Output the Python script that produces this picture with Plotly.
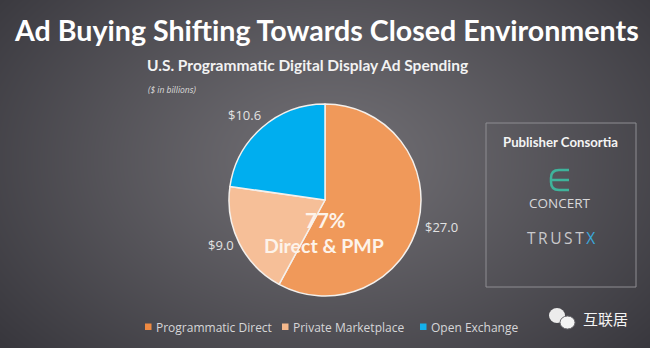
import base64, struct, zlib
import numpy as np
import plotly.graph_objects as go

# ---------------- data ----------------
labels = ["Programmatic Direct", "Private Marketplace", "Open Exchange"]
values = [27.0, 9.0, 10.6]
colors = ["#f0995a", "#f6bf98", "#00aeef"]
legend_colors = ["#ef8a42", "#f5b88c", "#14b0ea"]
title = "Ad Buying Shifting Towards Closed Environments"
subtitle = "U.S. Programmatic Digital Display Ad Spending"
unit_note = "($ in billions)"
center_label = "Direct & PMP"
box_title = "Publisher Consortia"
consortia = ["CONCERT", "TRUSTX"]
watermark = "互联居"

W, H = 650, 348

# ---------------- background gradient image ----------------
def png_uri(arr):
    h, w, _ = arr.shape
    raw = b"".join(b"\x00" + arr[i].tobytes() for i in range(h))
    def chunk(t, d):
        c = struct.pack(">I", len(d)) + t + d
        return c + struct.pack(">I", zlib.crc32(t + d) & 0xffffffff)
    png = b"\x89PNG\r\n\x1a\n" + chunk(b"IHDR", struct.pack(">IIBBBBB", w, h, 8, 2, 0, 0, 0)) \
        + chunk(b"IDAT", zlib.compress(raw, 9)) + chunk(b"IEND", b"")
    return "data:image/png;base64," + base64.b64encode(png).decode()

yy, xx = np.mgrid[0:H, 0:W]
d = np.sqrt(((xx - 330) / 430.0) ** 2 + ((yy - 160) / 290.0) ** 2)
d = np.clip(d, 0, 1) ** 1.1
c_in = np.array([114, 112, 117], float)
c_out = np.array([56, 55, 61], float)
img = (c_in[None, None, :] * (1 - d[..., None]) + c_out[None, None, :] * d[..., None]).astype(np.uint8)
bg_uri = png_uri(img)

# ---------------- figure ----------------
fig = go.Figure()

cx, cy, r = 325, 200, 96
fig.add_trace(go.Pie(
    labels=labels, values=values, sort=False, direction="clockwise", rotation=0,
    marker=dict(colors=colors, line=dict(color="#f4f0ec", width=1.5)),
    textinfo="none", hoverinfo="label+value",
    domain=dict(x=[(cx - r) / W, (cx + r) / W], y=[(H - cy - r) / H, (H - cy + r) / H]),
    showlegend=False,
))
# helper invisible scatter for pixel-coordinate axes
fig.add_trace(go.Scatter(x=[], y=[], showlegend=False, hoverinfo="skip"))

ann = []
def A(x, y, text, size, color="#ffffff", family="Lato", **kw):
    ann.append(dict(x=x, y=y, xref="x", yref="y", text=text, showarrow=False,
                    font=dict(size=size, color=color, family=family), **kw))

A(326, 30, f"<b>{title}</b>", 28.6)
A(307, 65, f"<b>{subtitle}</b>", 15.5, color="#f2f2f2")
A(172, 89, f"<i>{unit_note}</i>", 8.5, color="#dcdcdc", family="Open Sans")

# value labels
total = sum(values)
pos = [(441, 227), (221, 245), (244, 115)]
for v, (x, y) in zip(values, pos):
    A(x, y, f"${v:.1f}", 13, color="#e2e2e2", family="Open Sans")

share = round(100 * (values[0] + values[1]) / total)
A(325, 220, f"<b>{share}%</b>", 20.5, color="#fdf3ea")
A(324, 245, f"<b>{center_label}</b>", 19.5, color="#fdf3ea")

# legend (manual, from data)
leg_x = [145, 282, 420]
shapes = []
for lab, col, x in zip(labels, legend_colors, leg_x):
    shapes.append(dict(type="rect", xref="x", yref="y", x0=x, x1=x + 6.5, y0=323.5, y1=330,
                       fillcolor=col, line=dict(width=0)))
    A(x + 9, 327, lab, 12, color="#d6d6d8", family="Open Sans", xanchor="left")

# publisher consortia box
shapes.append(dict(type="rect", xref="x", yref="y", x0=486, x1=636, y0=123, y1=287,
                   line=dict(color="#8e8d92", width=1), fillcolor="rgba(0,0,0,0)"))
A(560, 142, f"<b>{box_title}</b>", 13.2, color="#f4f4f4")
# concert logo
shapes.append(dict(type="path", xref="x", yref="y",
                   path="M 569 170 L 559 170 Q 551 170 551 178 L 551 182 Q 551 190 559 190 L 569 190 M 552 180 L 569 180",
                   line=dict(color="#3fb39b", width=2.5)))
A(560, 203, consortia[0], 13.5, color="#d8d8da", family="Open Sans")
A(561, 238, "T\u2009R\u2009U\u2009S\u2009T\u2009<span style='color:#3aa8dc'>X</span>", 15.5,
  color="#c9c9cc", family="Open Sans")

# watermark
shapes.append(dict(type="circle", xref="x", yref="y", x0=549, x1=565, y0=308, y1=323,
                   fillcolor="#ececec", line=dict(width=0)))
shapes.append(dict(type="circle", xref="x", yref="y", x0=560, x1=575, y0=316, y1=329,
                   fillcolor="#f4f4f4", line=dict(color="#6a696e", width=1)))
A(605, 318, watermark, 15, color="#f4f4f4", family="Noto Sans CJK SC")

fig.update_layout(
    width=W, height=H, margin=dict(l=0, r=0, t=0, b=0),
    paper_bgcolor="#555459", plot_bgcolor="rgba(0,0,0,0)",
    xaxis=dict(range=[0, W], visible=False, fixedrange=True, domain=[0, 1]),
    yaxis=dict(range=[H, 0], visible=False, fixedrange=True, domain=[0, 1]),
    annotations=ann, shapes=shapes, showlegend=False,
    images=[dict(source=bg_uri, xref="paper", yref="paper", x=0, y=1, sizex=1, sizey=1,
                 sizing="stretch", layer="below", xanchor="left", yanchor="top")],
)

fig.write_html("out.html")
